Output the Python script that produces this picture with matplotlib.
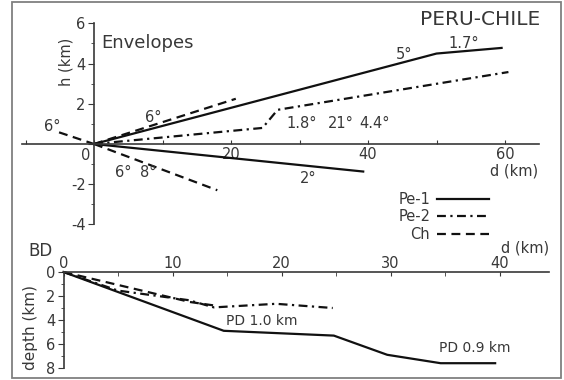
import matplotlib
matplotlib.use('Agg')
import matplotlib.pyplot as plt
from matplotlib.patches import Rectangle
from matplotlib.ticker import FixedLocator

plt.rcParams['font.family'] = ['DejaVu Sans']

# Envelopes (top panel): d (km) and h (km)
pe1_up_d = [0, 50, 59.5]
pe1_up_h = [0, 4.5, 4.78]
pe1_low_d = [0, 39.3]
pe1_low_h = [0, -1.37]
pe2_d = [0, 24.6, 26.8, 60.5]
pe2_h = [0, 0.8, 1.7, 3.58]
ch_up_d = [0, 20.7]
ch_up_h = [0, 2.25]
ch_left_d = [-5.1, 0]
ch_left_h = [0.58, 0]
ch_low_d = [0, 18]
ch_low_h = [0, -2.3]

# Basal decollement (bottom panel): d (km) and depth (km)
bd_pe1_d = [0, 14.7, 24.8, 29.7, 34.6, 39.6]
bd_pe1_z = [0, 4.9, 5.3, 6.9, 7.6, 7.6]
bd_pe2_d = [0, 5, 11.5, 13.8, 19.5, 24.7]
bd_pe2_z = [0, 1.55, 2.35, 2.95, 2.65, 3.0]
bd_ch_d = [0, 11.6, 13.9]
bd_ch_z = [0, 2.5, 2.8]

angle_labels = ['6°', '6°', '6°', '8°', '5°', '1.7°', '1.8°', '21°', '4.4°', '2°']
angle_pos = [(8.6, 1.34), (-6.1, 0.85), (4.2, -1.4), (7.9, -1.4), (45.3, 4.43),
             (54.0, 5.0), (30.3, 1.0), (36.0, 1.0), (41.0, 1.0), (31.2, -1.7)]

W, H = 564, 380
TXT = '#383838'
LC = '#111111'
LW = 1.6
DASH = (4, 2.5)
DASHDOT = (4, 2, 1, 2)


def axes_from_px(fig, x0, sx, y0, sy, xlim, ylim):
    # x0/y0: pixel of data zero, sx/sy: pixels per km
    left = x0 + sx * xlim[0]
    right = x0 + sx * xlim[1]
    top = y0 - sy * ylim[1]
    bottom = y0 - sy * ylim[0]
    ax = fig.add_axes([left / W, 1 - bottom / H, (right - left) / W, (bottom - top) / H])
    ax.set_xlim(xlim)
    ax.set_ylim(ylim)
    ax.patch.set_alpha(0)
    return ax


fig = plt.figure(figsize=(W / 100, H / 100), dpi=100)
fig.patches.append(Rectangle((12 / W, 2 / H), 549 / W, 376 / H, transform=fig.transFigure,
                             fill=False, edgecolor='#808080', linewidth=1.3))

# ---- top panel
ax = axes_from_px(fig, 94, 6.85, 144, 20.1, (-11, 67), (-5, 7))
for s in ['top', 'right']:
    ax.spines[s].set_visible(False)
ax.spines['left'].set_position(('data', 0))
ax.spines['bottom'].set_position(('data', 0))
ax.spines['left'].set_bounds(-4, 6)
ax.spines['bottom'].set_bounds(-10.5, 65)
for s in ['left', 'bottom']:
    ax.spines[s].set_color(TXT)
    ax.spines[s].set_linewidth(1.2)
ax.set_yticks([-4, -2, 0, 2, 4, 6])
ax.set_yticklabels(['-4', '-2', '', '2', '4', '6'])
ax.yaxis.set_minor_locator(FixedLocator(range(-4, 7)))
ax.set_xticks([-10, 0, 10, 20, 30, 40, 50, 60])
ax.set_xticklabels(['', '', '', '20', '', '40', '', '60'])
ax.tick_params(axis='y', which='both', direction='out', colors=TXT, labelsize=10.5, pad=2)
ax.tick_params(axis='y', which='major', length=4)
ax.tick_params(axis='y', which='minor', length=2)
ax.tick_params(axis='x', direction='in', length=3, colors=TXT, labelsize=10.5, pad=2)

ax.plot(pe1_up_d, pe1_up_h, color=LC, lw=LW, label='Pe-1')
ax.plot(pe1_low_d, pe1_low_h, color=LC, lw=LW)
ax.plot(pe2_d, pe2_h, color=LC, lw=LW, dashes=DASHDOT, label='Pe-2')
ax.plot(ch_up_d, ch_up_h, color=LC, lw=LW, dashes=DASH, label='Ch')
ax.plot(ch_left_d, ch_left_h, color=LC, lw=LW, dashes=DASH)
ax.plot(ch_low_d, ch_low_h, color=LC, lw=LW, dashes=DASH)

ax.text(1.0, 5.0, 'Envelopes', fontsize=13, color=TXT, ha='left', va='center')
ax.text(65.1, 6.17, 'PERU-CHILE', fontsize=14.5, color=TXT, ha='right', va='center')
ax.text(-4.1, 4.1, 'h (km)', fontsize=10.5, color=TXT, rotation=90, ha='center', va='center')
ax.text(61.3, -1.34, 'd (km)', fontsize=10.5, color=TXT, ha='center', va='center')
ax.text(-1.2, -0.55, '0', fontsize=10.5, color=TXT, ha='center', va='center')
for lab, (x, y) in zip(angle_labels, angle_pos):
    ax.text(x, y, lab, fontsize=10.5, color=TXT, ha='center', va='center')

ax.legend(loc='upper left', bbox_to_anchor=(44.4, -2.4), bbox_transform=ax.transData,
          markerfirst=False, frameon=False, fontsize=10.5, borderpad=0, borderaxespad=0,
          handlelength=3.6, handletextpad=0.45, labelspacing=0.15, labelcolor=TXT)

# ---- bottom panel
bx = axes_from_px(fig, 63.5, 10.9, 272, -12, (-3, 45.5), (9, -3))
for s in ['bottom', 'right']:
    bx.spines[s].set_visible(False)
bx.spines['left'].set_position(('data', 0))
bx.spines['top'].set_position(('data', 0))
bx.spines['left'].set_bounds(0, 8)
bx.spines['top'].set_bounds(0, 44.5)
for s in ['left', 'top']:
    bx.spines[s].set_color(TXT)
    bx.spines[s].set_linewidth(1.2)
bx.xaxis.set_ticks_position('top')
bx.set_xticks([0, 10, 20, 30, 40])
bx.xaxis.set_minor_locator(FixedLocator([5, 15, 25, 35]))
bx.set_yticks([0, 2, 4, 6, 8])
bx.yaxis.set_minor_locator(FixedLocator([1, 3, 5, 7]))
bx.tick_params(axis='x', which='both', direction='in', length=3, colors=TXT, labelsize=10.5, pad=1)
bx.tick_params(axis='y', which='both', direction='out', colors=TXT, labelsize=10.5, pad=2)
bx.tick_params(axis='y', which='major', length=4)
bx.tick_params(axis='y', which='minor', length=2)

bx.plot(bd_pe1_d, bd_pe1_z, color=LC, lw=LW)
bx.plot(bd_pe2_d, bd_pe2_z, color=LC, lw=LW, dashes=DASHDOT)
bx.plot(bd_ch_d, bd_ch_z, color=LC, lw=LW, dashes=DASH)

bx.text(-3.26, -1.75, 'BD', fontsize=12, color=TXT, ha='left', va='center')
bx.text(-3.0, 4.6, 'depth (km)', fontsize=11, color=TXT, rotation=90, ha='center', va='center')
bx.text(42.3, -2.0, 'd (km)', fontsize=10.5, color=TXT, ha='center', va='center')
bx.text(18.2, 4.1, 'PD 1.0 km', fontsize=10, color=TXT, ha='center', va='center')
bx.text(37.7, 6.3, 'PD 0.9 km', fontsize=10, color=TXT, ha='center', va='center')

fig.savefig('out.png', dpi=100)
